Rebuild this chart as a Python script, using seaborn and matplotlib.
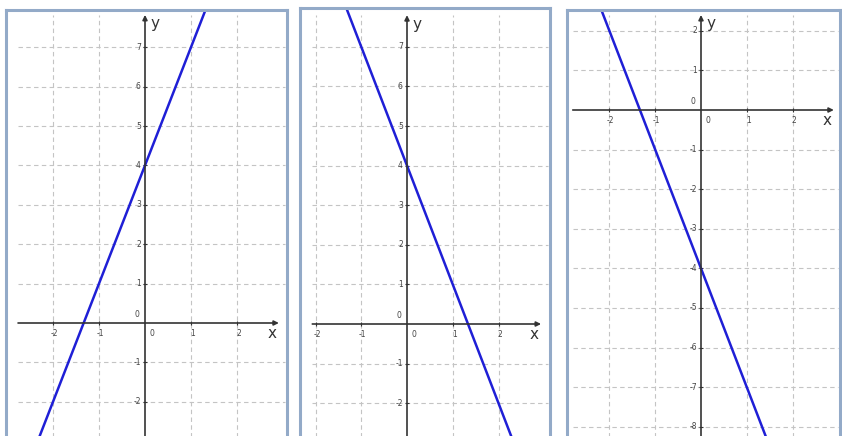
import matplotlib
matplotlib.use("Agg")
import matplotlib.pyplot as plt
import seaborn as sns
import pandas as pd

sns.set_style("white")
plt.rcParams['font.family'] = ['DejaVu Sans']

# points (x, y) for each blue line
line1_x = [-2.4, -1.0, 0.0, 1.0, 1.3]
line1_y = [-3.2, 1.0, 4.0, 7.0, 7.9]
line2_x = [-1.35, -1.0, 0.0, 1.0, 2.3]
line2_y = [8.05, 7.0, 4.0, 1.0, -2.9]
line3_x = [-2.2, -2.0, -1.0, 0.0, 1.0, 1.5]
line3_y = [2.6, 2.0, -1.0, -4.0, -7.0, -8.5]

# tick labels on each panel
xticks1 = [-2, -1, 1, 2]
yticks1 = [-2, -1, 1, 2, 3, 4, 5, 6, 7]
xticks2 = [-2, -1, 1, 2]
yticks2 = [-2, -1, 1, 2, 3, 4, 5, 6, 7]
xticks3 = [-2, -1, 1, 2]
yticks3 = [-8, -7, -6, -5, -4, -3, -2, -1, 1, 2]

W, H = 842, 436
fig = plt.figure(figsize=(W / 100, H / 100), dpi=100)

# layout of each panel in pixels: frame box, origin, px per unit, axis extents
panels = [
    dict(box=(6, 10, 287, 448), origin=(145, 323), sx=46.0, sy=39.4,
         xaxis=(-2.76, 2.91), ytop=7.82,
         x=line1_x, y=line1_y, xt=xticks1, yt=yticks1),
    dict(box=(300, 8, 550, 448), origin=(407, 324), sx=45.75, sy=39.6,
         xaxis=(-2.07, 2.93), ytop=7.8,
         x=line2_x, y=line2_y, xt=xticks2, yt=yticks2),
    dict(box=(567, 10, 840, 448), origin=(701, 110), sx=45.8, sy=39.6,
         xaxis=(-2.8, 2.9), ytop=2.4,
         x=line3_x, y=line3_y, xt=xticks3, yt=yticks3),
]

frame_col = '#93aac8'
axis_col = '#333333'
grid_col = '#c4c4c4'
text_col = '#444444'

for p in panels:
    l, t, r, b = p['box']
    ox, oy = p['origin']
    sx, sy = p['sx'], p['sy']
    ax = fig.add_axes([l / W, (H - b) / H, (r - l) / W, (b - t) / H])
    x0, x1 = (l - ox) / sx, (r - ox) / sx
    y0, y1 = (oy - b) / sy, (oy - t) / sy
    ax.set_xlim(x0, x1)
    ax.set_ylim(y0, y1)
    ax.set_xticks([])
    ax.set_yticks([])
    for s in ax.spines.values():
        s.set_color(frame_col)
        s.set_linewidth(2.2)

    xa0, xa1 = p['xaxis']
    ytop = p['ytop']

    # dashed grid
    ax.hlines(p['yt'], xa0, x1 - 0.05, colors=grid_col, linestyles=(0, (4, 3)), lw=0.8)
    ax.vlines(p['xt'], y0, ytop, colors=grid_col, linestyles=(0, (4, 3)), lw=0.8)

    # axes with arrows
    ax.annotate('', xy=(xa1, 0), xytext=(xa0, 0),
                arrowprops=dict(arrowstyle='-|>', color=axis_col, lw=1.2,
                                mutation_scale=7, shrinkA=0, shrinkB=0))
    ax.annotate('', xy=(0, ytop), xytext=(0, y0),
                arrowprops=dict(arrowstyle='-|>', color=axis_col, lw=1.2,
                                mutation_scale=7, shrinkA=0, shrinkB=0))

    # tick marks
    ax.plot(p['xt'], [0] * len(p['xt']), ls='none', marker='|', ms=3, color=axis_col, mew=0.8)
    ax.plot([0] * len(p['yt']), p['yt'], ls='none', marker='_', ms=3, color=axis_col, mew=0.8)

    # tick labels
    for v in p['xt']:
        ax.annotate(str(v), (v, 0), xytext=(1, -4), textcoords='offset points',
                    ha='center', va='top', fontsize=5.5, color=text_col)
    for v in p['yt']:
        ax.annotate(str(v), (0, v), xytext=(-3, 0), textcoords='offset points',
                    ha='right', va='center', fontsize=5.5, color=text_col)
    ax.annotate('0', (0, 0), xytext=(-4, 3), textcoords='offset points',
                ha='right', va='bottom', fontsize=5.5, color=text_col)
    ax.annotate('0', (0, 0), xytext=(5, -4), textcoords='offset points',
                ha='center', va='top', fontsize=5.5, color=text_col)

    # axis names
    ax.annotate('y', (0, ytop), xytext=(4, -1), textcoords='offset points',
                ha='left', va='top', fontsize=11, color=axis_col)
    ax.annotate('x', (xa1, 0), xytext=(-8, -2), textcoords='offset points',
                ha='left', va='top', fontsize=11, color=axis_col)

    df = pd.DataFrame({'x': p['x'], 'y': p['y']})
    sns.lineplot(data=df, x='x', y='y', ax=ax, color='#1f1fd6', lw=1.8,
                 sort=False, estimator=None)
    ax.set_xlabel('')
    ax.set_ylabel('')
    ax.set_xlim(x0, x1)
    ax.set_ylim(y0, y1)

fig.savefig('out.png', dpi=100)
